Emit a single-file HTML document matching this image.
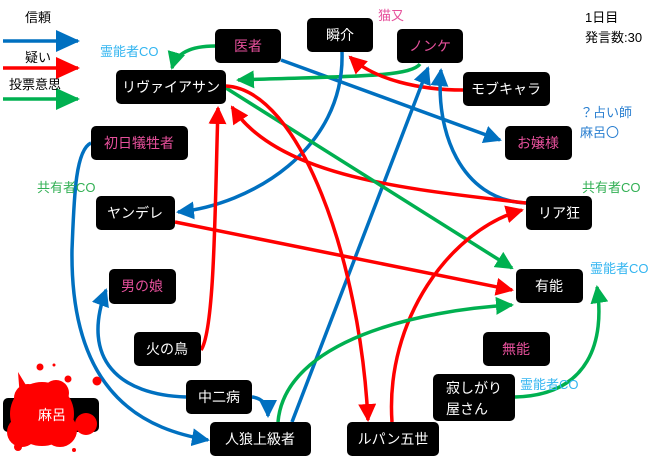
<!DOCTYPE html>
<html><head><meta charset="utf-8"><style>
body{margin:0;background:#fff;}
svg{display:block;font-family:"Liberation Sans","Noto Sans CJK JP",sans-serif;}
</style></head><body>
<svg width="660" height="459" viewBox="0 0 660 459" xmlns="http://www.w3.org/2000/svg">
<defs>
<marker id="b" markerUnits="userSpaceOnUse" markerWidth="18" markerHeight="18" refX="16" refY="9" orient="auto"><path d="M0,0 L18,9 L0,18 z" fill="#0070c0"/></marker>
<marker id="r" markerUnits="userSpaceOnUse" markerWidth="18" markerHeight="18" refX="16" refY="9" orient="auto"><path d="M0,0 L18,9 L0,18 z" fill="#ff0000"/></marker>
<marker id="g" markerUnits="userSpaceOnUse" markerWidth="18" markerHeight="18" refX="16" refY="9" orient="auto"><path d="M0,0 L18,9 L0,18 z" fill="#00b050"/></marker>
<marker id="bl" markerUnits="userSpaceOnUse" markerWidth="24" markerHeight="22" refX="22" refY="11" orient="auto"><path d="M0,0 L24,11 L0,22 z" fill="#0070c0"/></marker>
<marker id="rl" markerUnits="userSpaceOnUse" markerWidth="24" markerHeight="22" refX="22" refY="11" orient="auto"><path d="M0,0 L24,11 L0,22 z" fill="#ff0000"/></marker>
<marker id="gl" markerUnits="userSpaceOnUse" markerWidth="24" markerHeight="22" refX="22" refY="11" orient="auto"><path d="M0,0 L24,11 L0,22 z" fill="#00b050"/></marker>
</defs>
<g fill="none" stroke-width="3.5">
<path d="M3,41 L78,41" stroke="#0070c0" marker-end="url(#bl)"/>
<path d="M3,68 L78,68" stroke="#ff0000" marker-end="url(#rl)"/>
<path d="M3,99 L78,99" stroke="#00b050" marker-end="url(#gl)"/>
<path d="M215,46 C190,46 176,54 172,68" stroke="#00b050" marker-end="url(#g)"/>
<path d="M281,60 L500,140" stroke="#0070c0" marker-end="url(#b)"/>
<path d="M420,64 C410,78 340,76 238,80" stroke="#00b050" marker-end="url(#g)"/>
<path d="M463,90 C420,90 375,80 350,57" stroke="#ff0000" marker-end="url(#r)"/>
<path d="M342,52 C345,150 250,205 178,212" stroke="#0070c0" marker-end="url(#b)"/>
<path d="M292,422 L428,68" stroke="#0070c0" marker-end="url(#b)"/>
<path d="M526,203 C460,200 435,130 441,70" stroke="#0070c0" marker-end="url(#b)"/>
<path d="M526,203 C420,190 280,180 232,107" stroke="#ff0000" marker-end="url(#r)"/>
<path d="M226,88 L512,268" stroke="#00b050" marker-end="url(#g)"/>
<path d="M226,86 C300,90 360,260 368,420" stroke="#ff0000" marker-end="url(#r)"/>
<path d="M201,350 C215,330 215,200 218,108" stroke="#ff0000" marker-end="url(#r)"/>
<path d="M175,222 L512,290" stroke="#ff0000" marker-end="url(#r)"/>
<path d="M392,422 C385,320 450,230 522,210" stroke="#ff0000" marker-end="url(#r)"/>
<path d="M278,422 C285,340 420,310 512,305" stroke="#00b050" marker-end="url(#g)"/>
<path d="M515,397 C590,395 605,340 597,287" stroke="#00b050" marker-end="url(#g)"/>
<path d="M91,143 C75,150 74,200 72,250 C70,400 150,430 208,440" stroke="#0070c0" marker-end="url(#b)"/>
<path d="M186,397 C120,395 80,360 106,290" stroke="#0070c0" marker-end="url(#b)"/>
<path d="M252,397 C262,398 268,405 268,416" stroke="#0070c0" marker-end="url(#b)"/>
</g>
<g fill="#000">
<rect x="215" y="29" width="66" height="34" rx="5"/>
<rect x="307" y="18" width="66" height="34" rx="5"/>
<rect x="397" y="29" width="66" height="34" rx="5"/>
<rect x="463" y="72" width="87" height="34" rx="5"/>
<rect x="116" y="70" width="110" height="34" rx="5"/>
<rect x="505" y="126" width="67" height="34" rx="5"/>
<rect x="91" y="126" width="97" height="34" rx="5"/>
<rect x="96" y="196" width="79" height="34" rx="5"/>
<rect x="526" y="196" width="66" height="34" rx="5"/>
<rect x="516" y="269" width="67" height="34" rx="5"/>
<rect x="109" y="269" width="67" height="35" rx="5"/>
<rect x="134" y="332" width="67" height="34" rx="5"/>
<rect x="483" y="332" width="67" height="34" rx="5"/>
<rect x="433" y="374" width="82" height="47" rx="5"/>
<rect x="186" y="380" width="66" height="34" rx="5"/>
<rect x="210" y="422" width="101" height="34" rx="5"/>
<rect x="347" y="422" width="92" height="34" rx="5"/>
<rect x="3" y="398" width="96" height="34" rx="5"/>
</g>
<g fill="#ff0000">
<circle cx="42" cy="414" r="32"/><circle cx="28" cy="398" r="14"/><circle cx="60" cy="430" r="17"/>
<circle cx="22" cy="432" r="15"/><circle cx="56" cy="393" r="13"/><circle cx="86" cy="424" r="11"/>
<circle cx="40" cy="367" r="3.5"/><circle cx="68" cy="379" r="3.5"/><circle cx="97" cy="381" r="4.5"/>
<circle cx="54" cy="365" r="1.5"/><circle cx="74" cy="450" r="2"/><circle cx="18" cy="447" r="4"/>
<path d="M18,372 L32,395 L20,398 z"/>
</g>
<g font-size="14" fill="#fff" text-anchor="middle">
<text x="248" y="51" fill="#e6509b">医者</text>
<text x="340" y="40">瞬介</text>
<text x="430" y="51" fill="#e6509b">ノンケ</text>
<text x="506" y="94">モブキャラ</text>
<text x="171" y="92">リヴァイアサン</text>
<text x="538" y="148" fill="#e6509b">お嬢様</text>
<text x="139" y="148" fill="#e6509b">初日犠牲者</text>
<text x="135" y="218">ヤンデレ</text>
<text x="559" y="218">リア狂</text>
<text x="549" y="291">有能</text>
<text x="142" y="291" fill="#e6509b">男の娘</text>
<text x="167" y="354">火の鳥</text>
<text x="516" y="354" fill="#e6509b">無能</text>
<text x="219" y="402">中二病</text>
<text x="260" y="444">人狼上級者</text>
<text x="393" y="444">ルパン五世</text>
<text x="52" y="420">麻呂</text>
</g>
<g font-size="14" fill="#fff">
<text x="446" y="393">寂しがり</text>
<text x="446" y="414">屋さん</text>
</g>
<g font-size="13">
<text x="25" y="22" fill="#000">信頼</text>
<text x="25" y="62" fill="#000">疑い</text>
<text x="9" y="89" fill="#000">投票意思</text>
<text x="378" y="20" fill="#e6509b">猫又</text>
<text x="585" y="22" fill="#000">1日目</text>
<text x="585" y="42" fill="#000">発言数:30</text>
<text x="100" y="56" fill="#33b5f0">霊能者CO</text>
<text x="580" y="117" fill="#2a7fd0">？占い師</text>
<text x="580" y="137" fill="#2a7fd0">麻呂〇</text>
<text x="37" y="192" fill="#33b055">共有者CO</text>
<text x="582" y="192" fill="#33b055">共有者CO</text>
<text x="590" y="273" fill="#33b5f0">霊能者CO</text>
<text x="520" y="389" fill="#33b5f0">霊能者CO</text>
</g>
</svg>
</body></html>
